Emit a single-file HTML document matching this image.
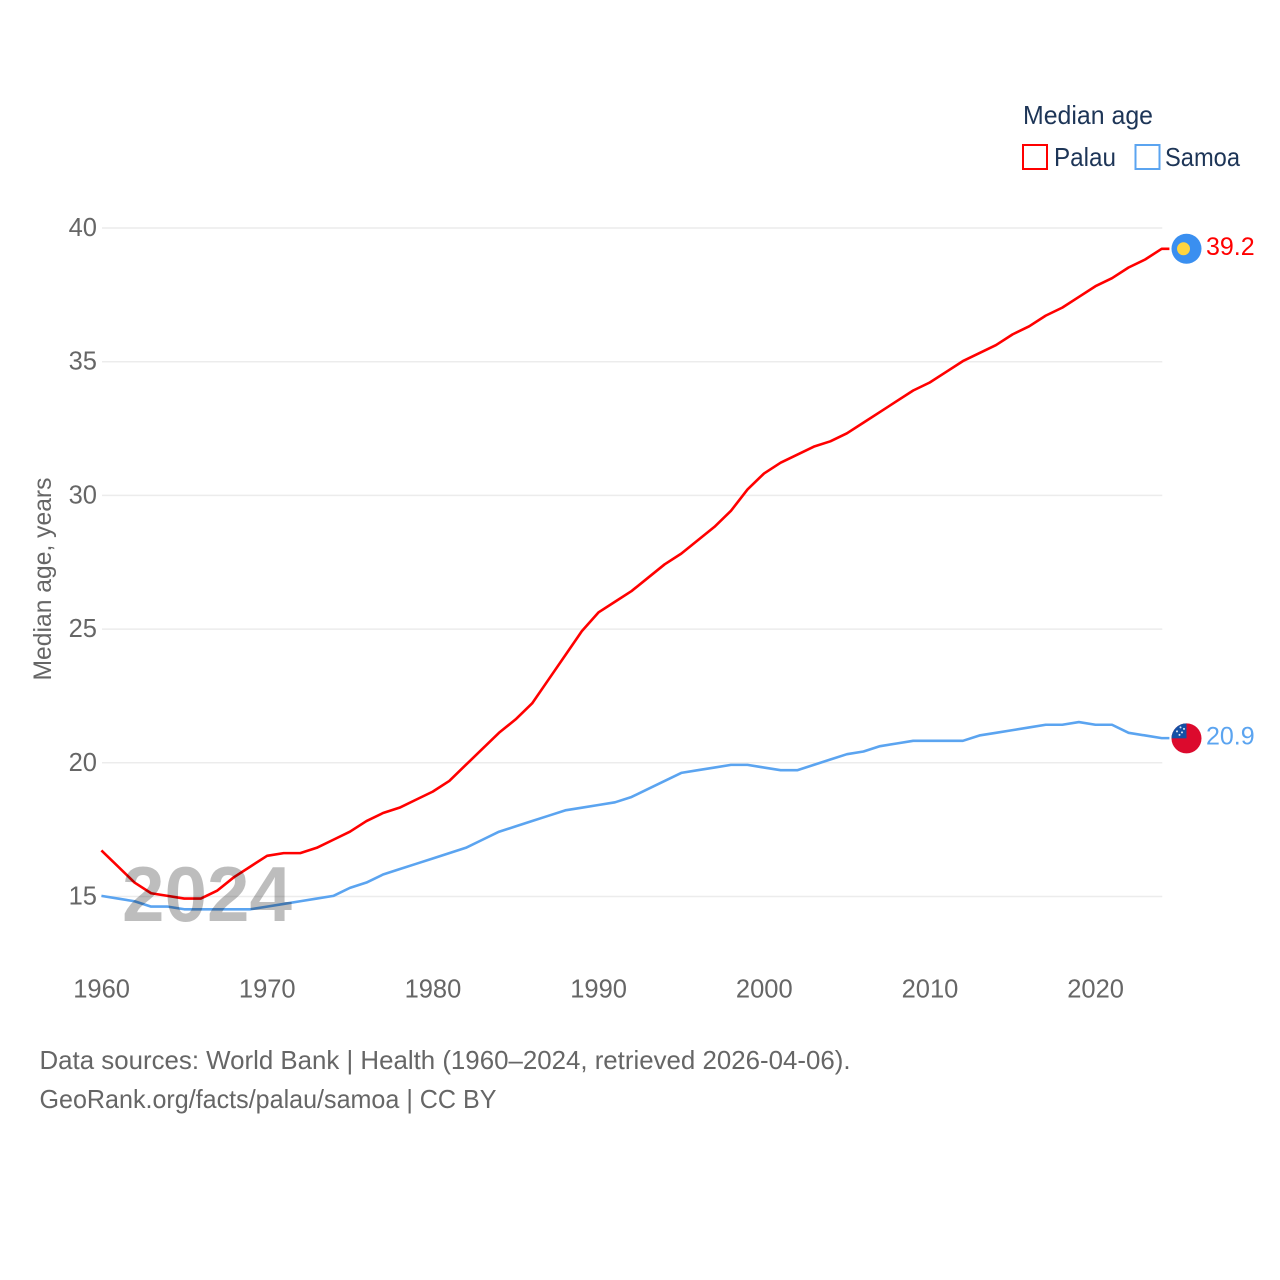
<!DOCTYPE html>
<html lang="en">
<head>
<meta charset="utf-8">
<title>Median age: Palau and Samoa</title>
<style>
html,body{margin:0;padding:0;background:#fff;width:1280px;height:1280px;overflow:hidden}
svg{display:block}
text{font-family:"Liberation Sans",sans-serif}
</style>
</head>
<body>
<svg id="chart" xmlns="http://www.w3.org/2000/svg" width="1280" height="1280" viewBox="0 0 1280 1280">
  <g id="grid"></g>
  <g id="yticks"></g>
  <g id="xticks"></g>
  <text transform="translate(51,579) rotate(-90)" text-anchor="middle" font-size="25" fill="#666" textLength="203" lengthAdjust="spacingAndGlyphs">Median age, years</text>
  <g id="series" transform="translate(-0.6,-0.6)"></g>

  <text x="122" y="921" font-size="78" font-weight="700" fill="#000" fill-opacity="0.26" textLength="170" lengthAdjust="spacingAndGlyphs">2024</text>

  <g>
    <text x="1023" y="124" font-size="26" fill="#1d3557" textLength="130" lengthAdjust="spacingAndGlyphs">Median age</text>
    <rect x="1023" y="145" width="24" height="24" fill="none" stroke="#ff0000" stroke-width="2"/>
    <text x="1054" y="166" font-size="26" fill="#1d3557" textLength="62" lengthAdjust="spacingAndGlyphs">Palau</text>
    <rect x="1135.500" y="145" width="24" height="24" fill="none" stroke="#5ba4f0" stroke-width="2"/>
    <text x="1165" y="166" font-size="26" fill="#1d3557" textLength="75" lengthAdjust="spacingAndGlyphs">Samoa</text>
  </g>

  <g id="ends"></g>

  <g>
    <text x="39.500" y="1069" font-size="26" fill="#666" textLength="811" lengthAdjust="spacingAndGlyphs">Data sources: World Bank | Health (1960–2024, retrieved 2026-04-06).</text>
    <text x="39.500" y="1108" font-size="26" fill="#666" textLength="457" lengthAdjust="spacingAndGlyphs">GeoRank.org/facts/palau/samoa | CC BY</text>
  </g>
</svg>
<script>
const years = [1960,1961,1962,1963,1964,1965,1966,1967,1968,1969,1970,1971,1972,1973,1974,1975,1976,1977,1978,1979,1980,1981,1982,1983,1984,1985,1986,1987,1988,1989,1990,1991,1992,1993,1994,1995,1996,1997,1998,1999,2000,2001,2002,2003,2004,2005,2006,2007,2008,2009,2010,2011,2012,2013,2014,2015,2016,2017,2018,2019,2020,2021,2022,2023,2024];
const palauValues = [16.7,16.1,15.5,15.1,15.0,14.9,14.9,15.2,15.7,16.1,16.5,16.6,16.6,16.8,17.1,17.4,17.8,18.1,18.3,18.6,18.9,19.3,19.9,20.5,21.1,21.6,22.2,23.1,24.0,24.9,25.6,26.0,26.4,26.9,27.4,27.8,28.3,28.8,29.4,30.2,30.8,31.2,31.5,31.8,32.0,32.3,32.7,33.1,33.5,33.9,34.2,34.6,35.0,35.3,35.6,36.0,36.3,36.7,37.0,37.4,37.8,38.1,38.5,38.8,39.2];
const samoaValues = [15.0,14.9,14.8,14.6,14.6,14.5,14.5,14.5,14.5,14.5,14.6,14.7,14.8,14.9,15.0,15.3,15.5,15.8,16.0,16.2,16.4,16.6,16.8,17.1,17.4,17.6,17.8,18.0,18.2,18.3,18.4,18.5,18.7,19.0,19.3,19.6,19.7,19.8,19.9,19.9,19.8,19.7,19.7,19.9,20.1,20.3,20.4,20.6,20.7,20.8,20.8,20.8,20.8,21.0,21.1,21.2,21.3,21.4,21.4,21.5,21.4,21.4,21.1,21.0,20.9];
const yTickValues = [15,20,25,30,35,40];
const xTickValues = [1960,1970,1980,1990,2000,2010,2020];

const NS = 'http://www.w3.org/2000/svg';
const plotLeft = 102, plotRight = 1162.3, plotTop = 228, plotBottom = 896.5;
const xDomainMin = 1960, xDomainMax = 2024, yDomainMin = 15, yDomainMax = 40;
function xScale(v){ return plotLeft + (v - xDomainMin) / (xDomainMax - xDomainMin) * (plotRight - plotLeft); }
function yScale(v){ return plotBottom - (v - yDomainMin) / (yDomainMax - yDomainMin) * (plotBottom - plotTop); }
function make(tag, attrs, parent){
  const el = document.createElementNS(NS, tag);
  for (const k in attrs) el.setAttribute(k, attrs[k]);
  parent.appendChild(el);
  return el;
}

const gridG = document.getElementById('grid');
const yG = document.getElementById('yticks');
yTickValues.forEach(function(t){
  const line = make('line', {x1: plotLeft, x2: plotRight, y1: yScale(t), y2: yScale(t), stroke: '#ececec', 'stroke-width': 1.5}, gridG);
  
  
  const label = make('text', {x: 97, y: yScale(t) + 8, 'text-anchor': 'end', 'font-size': 25.5, fill: '#666'}, yG);
  label.textContent = t;
  
  
});

const xG = document.getElementById('xticks');
xTickValues.forEach(function(t){
  const label = make('text', {x: xScale(t) - 0.4, y: 997.5, 'text-anchor': 'middle', 'font-size': 25.5, fill: '#666'}, xG);
  label.textContent = t;
  
  
});

const seriesG = document.getElementById('series');
function linePath(values){
  const pts = values.map(function(v, i){ return xScale(years[i]).toFixed(2) + ',' + yScale(v).toFixed(2); });
  const last = values[values.length - 1];
  pts.push('1170,' + yScale(last).toFixed(2));
  return 'M' + pts.join('L');
}
const palauLine = make('path', {d: linePath(palauValues), fill: 'none', stroke: '#ff0000', 'stroke-width': 2.6, 'stroke-linejoin': 'round'}, seriesG);


const samoaLine = make('path', {d: linePath(samoaValues), fill: 'none', stroke: '#5ba4f0', 'stroke-width': 2.6, 'stroke-linejoin': 'round'}, seriesG);



const endsG = document.getElementById('ends');
const flagX = 1186.5;
const palauEnd = palauValues[palauValues.length - 1];
const samoaEnd = samoaValues[samoaValues.length - 1];
const palauY = yScale(palauEnd) - 0.6;
const samoaY = yScale(samoaEnd) - 0.4;

const palauFlag = make('circle', {cx: flagX, cy: palauY, r: 15, fill: '#3a8ff0'}, endsG);


const palauSun = make('circle', {cx: flagX - 3, cy: palauY, r: 6.5, fill: '#ffd43f'}, endsG);



const samoaFlag = make('circle', {cx: flagX, cy: samoaY, r: 15, fill: '#dc0a2d'}, endsG);


const clip = make('clipPath', {id: 'samoa-clip'}, endsG);
make('circle', {cx: flagX, cy: samoaY, r: 15}, clip);
const samoaCanton = make('rect', {x: flagX - 15, y: samoaY - 15, width: 15, height: 15, fill: '#1450a5', 'clip-path': 'url(#samoa-clip)'}, endsG);


[[-6,-11],[-9.500,-7],[-4.500,-6],[-7,-3.500],[-2.500,-9.500]].forEach(function(o){
  const star = make('circle', {cx: flagX + o[0], cy: samoaY + o[1], r: 1, fill: '#dfe8f5'}, endsG);
  
  
});

const palauLabel = make('text', {x: 1206, y: palauY + 6, 'font-size': 25, fill: '#ff0000'}, endsG);
palauLabel.textContent = palauEnd.toFixed(1);


const samoaLabel = make('text', {x: 1206, y: samoaY + 6, 'font-size': 25, fill: '#5ba4f0'}, endsG);
samoaLabel.textContent = samoaEnd.toFixed(1);


</script>
</body>
</html>
